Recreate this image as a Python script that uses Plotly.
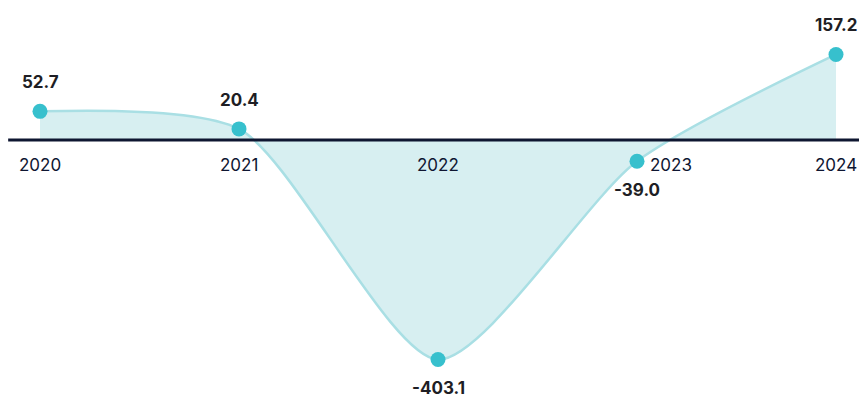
import plotly.graph_objects as go

years = ["2020", "2021", "2022", "2023", "2024"]
values = [52.7, 20.4, -403.1, -39.0, 157.2]
# horizontal nudge for year labels that would sit on a marker
year_label_shift = [0, 0, 0, 34, 0]

LINE = "#a9dfe4"
FILL = "rgba(176, 223, 228, 0.5)"
MARKER = "#37c0cd"
INK = "#1e1e24"
AXIS = "#0e1631"
FONT = "Inter, Lato, sans-serif"

xi = list(range(len(years)))

fig = go.Figure()
fig.add_trace(go.Scatter(
    x=xi, y=values,
    mode="lines+markers",
    line=dict(color=LINE, width=2.5, shape="spline", smoothing=0.7),
    fill="tozeroy", fillcolor=FILL,
    marker=dict(color=MARKER, size=15),
    cliponaxis=False,
    hoverinfo="skip",
))

annotations = []
for x, v in zip(xi, values):
    annotations.append(dict(
        x=x, y=v, text=f"<b>{v:.1f}</b>", showarrow=False,
        yshift=29 if v >= 0 else -29,
        font=dict(family=FONT, size=17, color=INK),
    ))
for x, label, dx in zip(xi, years, year_label_shift):
    annotations.append(dict(
        x=x, y=0, text=label, showarrow=False, yshift=-25, xshift=dx,
        font=dict(family=FONT, size=17, color=AXIS),
    ))

fig.update_layout(
    width=859, height=401,
    margin=dict(l=40, r=23, t=0, b=0),
    paper_bgcolor="white", plot_bgcolor="white",
    showlegend=False,
    annotations=annotations,
    xaxis=dict(range=[0, 4], showgrid=False, zeroline=False,
               showticklabels=False, fixedrange=True),
    yaxis=dict(range=[-479.4, 257.2], showgrid=False, showticklabels=False,
               zeroline=False, fixedrange=True),
    shapes=[dict(type="line", xref="paper", x0=-0.04, x1=1.03,
                 yref="y", y0=0, y1=0,
                 line=dict(color=AXIS, width=3), layer="above")],
)

fig.write_html("out.html")
